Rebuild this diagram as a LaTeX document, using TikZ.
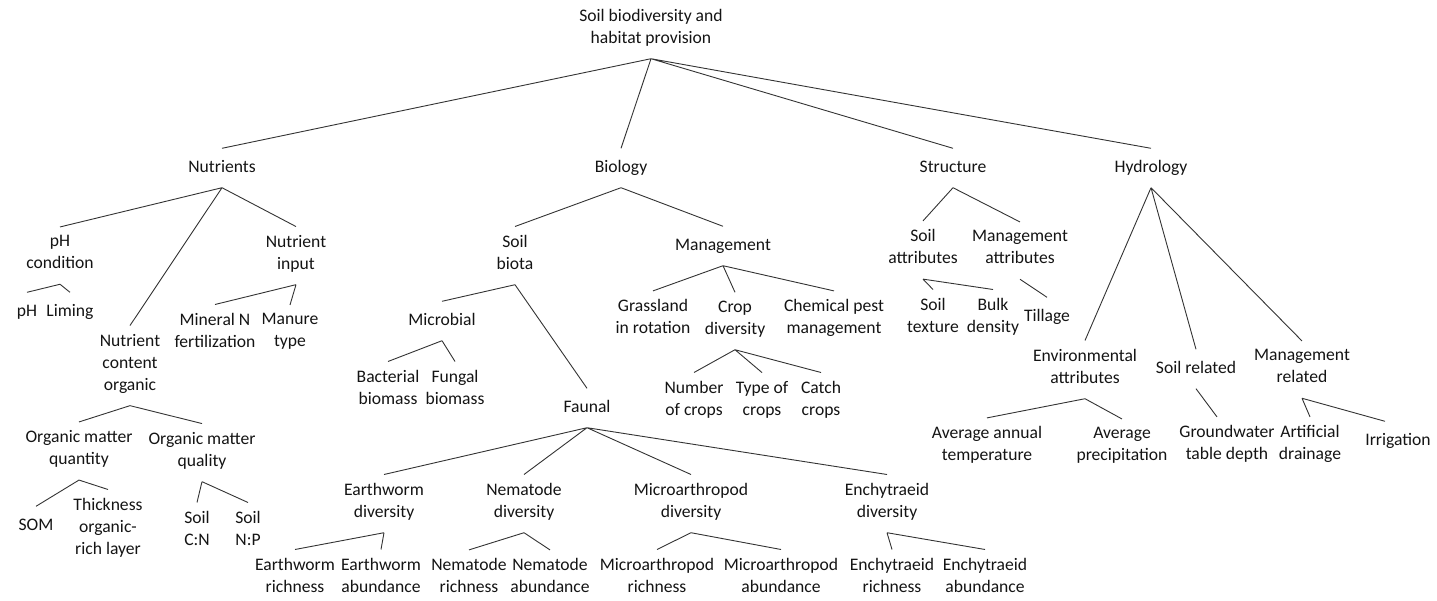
\documentclass[tikz,border=0pt]{standalone}
\usepackage{fontspec}
\setmainfont{Carlito}
\begin{document}
\begin{tikzpicture}[x=1pt,y=-1pt,
		item/.style={align=center,inner xsep=1pt,inner ysep=8.5pt,text=black!92,
			font=\fontsize{17.6}{22}\selectfont,
			execute at begin node=\strut,execute at end node=\strut},
		link/.style={draw=black!80,line width=0.9pt}]
	\useasboundingbox (0,0) rectangle (1437,600);
	% top
	\node[item] (root) at (651,29.6) {Soil biodiversity and\\habitat provision};
	\node[item] (nut) at (222,168) {Nutrients};
	\node[item] (bio) at (621,168) {Biology};
	\node[item] (str) at (953,168) {Structure};
	\node[item] (hyd) at (1151,168) {Hydrology};
	% nutrients
	\node[item] (phc) at (60,255.6) {pH\\condition};
	\node[item] (ph) at (27,312) {pH};
	\node[item] (lim) at (70,312) {Liming};
	\node[item] (nin) at (296,255.6) {Nutrient\\input};
	\node[item] (minn) at (215,333.6) {Mineral N\\fertilization};
	\node[item] (man) at (290,333.6) {Manure\\type};
	\node[item] (nco) at (130,365.6) {Nutrient\\content\\organic};
	\node[item] (omqn) at (79,451) {Organic matter\\quantity};
	\node[item] (omql) at (202,452.6) {Organic matter\\quality};
	\node[item] (som) at (36,526) {SOM};
	\node[item] (thk) at (108,529.6) {Thickness\\organic-\\rich layer};
	\node[item] (scn) at (197,531.6) {Soil\\C:N};
	\node[item] (snp) at (248,531.6) {Soil\\N:P};
	% biology
	\node[item] (sbio) at (515,255.6) {Soil\\biota};
	\node[item] (mic) at (442,321) {Microbial};
	\node[item] (bac) at (388,390.6) {Bacterial\\biomass};
	\node[item] (fun) at (455,390.6) {Fungal\\biomass};
	\node[item] (fau) at (587,408) {Faunal};
	\node[item] (ewd) at (384,503.6) {Earthworm\\diversity};
	\node[item] (nmd) at (524,503.6) {Nematode\\diversity};
	\node[item] (mad) at (691,503.6) {Microarthropod\\diversity};
	\node[item] (ecd) at (887,503.6) {Enchytraeid\\diversity};
	\node[item] (ewr) at (295,578.6) {Earthworm\\richness};
	\node[item] (ewa) at (381,578.6) {Earthworm\\abundance};
	\node[item] (nmr) at (469,579) {Nematode\\richness};
	\node[item] (nma) at (550,579) {Nematode\\abundance};
	\node[item] (mar) at (657,578.6) {Microarthropod\\richness};
	\node[item] (maa) at (781,578.6) {Microarthropod\\abundance};
	\node[item] (ecr) at (892,578.6) {Enchytraeid\\richness};
	\node[item] (eca) at (985,578.6) {Enchytraeid\\abundance};
	\node[item] (mgt) at (723,246) {Management};
	\node[item] (grs) at (653,320) {Grassland\\in rotation};
	\node[item] (crd) at (735,321) {Crop\\diversity};
	\node[item] (chm) at (834,320) {Chemical pest\\management};
	\node[item] (noc) at (694,401.6) {Number\\of crops};
	\node[item] (toc) at (762,401.6) {Type of\\crops};
	\node[item] (cat) at (821,401.6) {Catch\\crops};
	% structure
	\node[item] (sat) at (923,250) {Soil\\attributes};
	\node[item] (mat) at (1020,250.6) {Management\\attributes};
	\node[item] (stx) at (933,318.6) {Soil\\texture};
	\node[item] (bdn) at (993,318.6) {Bulk\\density};
	\node[item] (til) at (1047,317) {Tillage};
	% hydrology
	\node[item] (env) at (1085,369.6) {Environmental\\attributes};
	\node[item] (srl) at (1196,369) {Soil related};
	\node[item] (mrl) at (1302,369.6) {Management\\related};
	\node[item] (aat) at (987,447) {Average annual\\temperature};
	\node[item] (apr) at (1122,447.6) {Average\\precipitation};
	\node[item] (gwt) at (1227,446) {Groundwater\\table depth};
	\node[item] (adr) at (1310,446) {Artificial\\drainage};
	\node[item] (irr) at (1398,441) {Irrigation};
	% links
	\draw[link] (root.south) -- (nut.north) (root.south) -- (bio.north)
		(root.south) -- (str.north) (root.south) -- (hyd.north);
	\draw[link] (nut.south) -- (phc.north) (nut.south) -- (nco.north) (nut.south) -- (nin.north);
	\draw[link] (phc.south) -- (ph.north) (phc.south) -- (lim.north);
	\draw[link] (nin.south) -- (minn.north) (nin.south) -- (man.north);
	\draw[link] (nco.south) -- (omqn.north) (nco.south) -- (omql.north);
	\draw[link] (omqn.south) -- (som.north) (omqn.south) -- (thk.north);
	\draw[link] (omql.south) -- (scn.north) (omql.south) -- (snp.north);
	\draw[link] (bio.south) -- (sbio.north) (bio.south) -- (mgt.north);
	\draw[link] (sbio.south) -- (mic.north) (sbio.south) -- (fau.north);
	\draw[link] (mic.south) -- (bac.north) (mic.south) -- (fun.north);
	\draw[link] (fau.south) -- (ewd.north) (fau.south) -- (nmd.north)
		(fau.south) -- (mad.north) (fau.south) -- (ecd.north);
	\draw[link] (ewd.south) -- (ewr.north) (ewd.south) -- (ewa.north);
	\draw[link] (nmd.south) -- (nmr.north) (nmd.south) -- (nma.north);
	\draw[link] (mad.south) -- (mar.north) (mad.south) -- (maa.north);
	\draw[link] (ecd.south) -- (ecr.north) (ecd.south) -- (eca.north);
	\draw[link] (mgt.south) -- (grs.north) (mgt.south) -- (crd.north) (mgt.south) -- (chm.north);
	\draw[link] (crd.south) -- (noc.north) (crd.south) -- (toc.north) (crd.south) -- (cat.north);
	\draw[link] (str.south) -- (sat.north) (str.south) -- (mat.north);
	\draw[link] (sat.south) -- (stx.north) (sat.south) -- (bdn.north);
	\draw[link] (mat.south) -- (til.north);
	\draw[link] (hyd.south) -- (env.north) (hyd.south) -- (srl.north) (hyd.south) -- (mrl.north);
	\draw[link] (env.south) -- (aat.north) (env.south) -- (apr.north);
	\draw[link] (srl.south) -- ([xshift=-10pt]gwt.north);
	\draw[link] (mrl.south) -- (adr.north) (mrl.south) -- ([xshift=-13pt]irr.north);
\end{tikzpicture}
\end{document}
